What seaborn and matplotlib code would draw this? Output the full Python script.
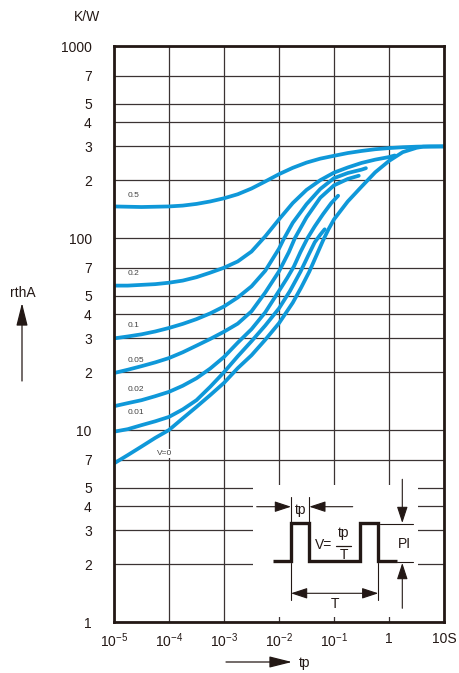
import numpy as np
import pandas as pd
import matplotlib
matplotlib.use('Agg')
import matplotlib.pyplot as plt
import seaborn as sns
from matplotlib.patches import Rectangle, FancyArrowPatch
from matplotlib.ticker import NullLocator

sns.set_theme(style='white')
plt.rcParams['font.family'] = ['Liberation Sans', 'DejaVu Sans']
plt.rcParams['mathtext.fontset'] = 'custom'
plt.rcParams['mathtext.rm'] = 'Liberation Sans'
plt.rcParams['mathtext.it'] = 'Liberation Sans'
plt.rcParams['mathtext.bf'] = 'Liberation Sans'

# ---------------- data ----------------
# x positions are read as decade exponents of tp (log10 seconds), y values in K/W
duty_labels = ['0.5', '0.2', '0.1', '0.05', '0.02', '0.01', 'V=0']

logtp_05 = [-5, -4.75, -4.5, -4.25, -4, -3.75, -3.5, -3.25, -3, -2.75, -2.5, -2.25, -2,
            -1.75, -1.5, -1.25, -1, -0.75, -0.5, -0.25, 0, 0.25, 0.5, 0.75, 1]
z_05 = [146, 145.5, 145, 145.5, 146, 147.5, 150.5, 155, 161, 169, 181, 197, 215,
        232, 247, 259, 268, 277, 284, 290, 294, 297, 299, 300, 300]

logtp_02 = [-5, -4.75, -4.5, -4.25, -4, -3.75, -3.5, -3.25, -3, -2.75, -2.5, -2.25, -2,
            -1.75, -1.5, -1.25, -1, -0.75, -0.5, -0.25, 0, 0.104]
z_02 = [56.5, 56.5, 57, 57.5, 58.5, 60, 62.5, 66, 70, 75.5, 85, 102, 125,
        152, 178, 200, 219, 233, 246, 256, 264, 269]

logtp_01 = [-5, -4.75, -4.5, -4.25, -4, -3.75, -3.5, -3.25, -3, -2.75, -2.5, -2.25, -2,
            -1.92, -1.75, -1.5, -1.25, -1, -0.75, -0.5, -0.42]
z_01 = [30, 30.7, 31.5, 32.6, 34, 35.7, 37.8, 40.5, 44, 49, 56, 67.5, 88,
        98, 120, 150, 180, 205, 218, 227, 231]

logtp_005 = [-5, -4.75, -4.5, -4.25, -4, -3.75, -3.5, -3.25, -3, -2.75, -2.5, -2.25, -2,
             -1.82, -1.71, -1.5, -1.25, -1, -0.75, -0.55]
z_005 = [19.8, 20.6, 21.5, 22.5, 23.7, 25.4, 27.5, 29.8, 32.5, 35.8, 41.5, 52, 67,
         84.5, 100, 128, 162, 188, 203, 211]

logtp_002 = [-5, -4.75, -4.5, -4.25, -4, -3.75, -3.5, -3.25, -3, -2.75, -2.5, -2.25, -2,
             -1.85, -1.73, -1.61, -1.48, -1.35, -1.2, -1.05, -0.925]
z_002 = [13.3, 13.8, 14.3, 15, 15.8, 17, 18.6, 20.9, 24, 28.5, 33.5, 41, 53,
         62, 71, 84.5, 100, 115, 133, 152, 166]

logtp_001 = [-5, -4.75, -4.5, -4.25, -4, -3.75, -3.5, -3.25, -3, -2.75, -2.5, -2.25, -2,
             -1.8, -1.61, -1.46, -1.35, -1.25, -1.17]
z_001 = [9.8, 10.1, 10.6, 11.1, 11.7, 12.8, 14.3, 16.8, 20, 24.2, 29, 35, 43,
         53, 66.7, 82, 95, 104, 111]

logtp_v0 = [-5, -4.75, -4.5, -4.25, -4, -3.75, -3.5, -3.25, -3, -2.75, -2.5, -2.25, -2,
            -1.75, -1.6, -1.45, -1.32, -1.2, -1.1, -1, -0.75, -0.5, -0.25, 0, 0.25,
            0.5, 0.62, 1]
z_v0 = [6.7, 7.4, 8.2, 9.1, 10, 11.5, 13.2, 15.2, 17.6, 21, 24.5, 29.5, 36,
        46, 55, 66.7, 81, 97, 111, 125, 155, 185, 220, 252, 280,
        295, 299, 300]

curve_logtp = [logtp_05, logtp_02, logtp_01, logtp_005, logtp_002, logtp_001, logtp_v0]
curve_z = [z_05, z_02, z_01, z_005, z_002, z_001, z_v0]

# label anchor values (left side of plot)
label_tp = [1.75e-5, 1.75e-5, 1.75e-5, 1.75e-5, 1.75e-5, 1.75e-5, 6.0e-5]
label_z = [167, 65, 35.2, 22.9, 16.2, 12.3, 7.55]

x_ticks = [1e-5, 1e-4, 1e-3, 1e-2, 1e-1, 1, 10]
x_ticklabels = [r'$\mathregular{10^{-5}}$', r'$\mathregular{10^{-4}}$', r'$\mathregular{10^{-3}}$',
                r'$\mathregular{10^{-2}}$', r'$\mathregular{10^{-1}}$', '1', '10S']
y_ticks = [1, 2, 3, 4, 5, 7, 10, 20, 30, 40, 50, 70, 100, 200, 300, 400, 500, 700, 1000]
y_ticklabels = ['1', '2', '3', '4', '5', '7', '10', '2', '3', '4', '5', '7',
                '100', '2', '3', '4', '5', '7', '1000']

BLUE = '#0f98d9'
INK = '#231815'

df = pd.concat([pd.DataFrame({'tp': np.power(10.0, np.array(t)), 'z': z, 'duty': d})
                for t, z, d in zip(curve_logtp, curve_z, duty_labels)], ignore_index=True)

# ---------------- figure ----------------
W, H = 460, 673
fig = plt.figure(figsize=(W / 100, H / 100), dpi=100)
ax = fig.add_axes([114 / W, (H - 622) / H, 330 / W, 576 / H])

for d in duty_labels:
    sub = df[df['duty'] == d]
    sns.lineplot(data=sub, x='tp', y='z', ax=ax, color=BLUE, lw=2.7,
                 estimator=None, sort=False, zorder=3, legend=False)
for ln in ax.lines:
    ln.set_solid_capstyle('round')
    ln.set_solid_joinstyle('round')

ax.set_xscale('log')
ax.set_yscale('log')
ax.set_xlim(1e-5, 10)
ax.set_ylim(1, 1000)
ax.set_xticks(x_ticks)
ax.set_xticklabels(x_ticklabels)
ax.set_yticks(y_ticks)
ax.set_yticklabels(y_ticklabels)
ax.xaxis.set_minor_locator(NullLocator())
ax.yaxis.set_minor_locator(NullLocator())
ax.set_xlabel('')
ax.set_ylabel('')
ax.tick_params(axis='y', length=0, pad=16, labelsize=10, labelcolor=INK)
ax.tick_params(axis='x', length=0, pad=7, labelsize=10, labelcolor=INK)
ax.grid(True, which='major', color='#3b3333', lw=0.9)
ax.set_axisbelow(True)
for s in ax.spines.values():
    s.set_linewidth(2.0)
    s.set_color(INK)
    s.set_zorder(6)

# curve labels
for t, z, lab in zip(label_tp, label_z, duty_labels):
    kw = dict(fontsize=6, color='#444444', ha='left', va='center', zorder=4)
    if lab == 'V=0':
        kw['bbox'] = dict(fc='white', ec='none', pad=1.0)
    ax.text(t, z, lab, **kw)

# ---------------- inset pulse diagram (decorative) ----------------
def A(px, py):
    return ((px - 114) / 330, (622 - py) / 576)

x0, y0 = A(253, 617)
x1, y1 = A(418, 485)
ax.add_patch(Rectangle((x0, y0), x1 - x0, y1 - y0, transform=ax.transAxes,
                       fc='white', ec='none', zorder=2))

pulse_px = [(273.3, 560.7), (291, 560.7), (291, 523.3), (309.3, 523.3), (309.3, 560.7),
            (360, 560.7), (360, 523.3), (378.3, 523.3), (378.3, 560.7), (396.7, 560.7)]
pts = [A(*p) for p in pulse_px]
ax.plot([p[0] for p in pts], [p[1] for p in pts], transform=ax.transAxes,
        color=INK, lw=2.4, zorder=4, solid_joinstyle='miter', solid_capstyle='butt')

def thin(p, q, lw=0.8):
    a, b = A(*p), A(*q)
    ax.plot([a[0], b[0]], [a[1], b[1]], transform=ax.transAxes, color=INK, lw=lw, zorder=4)

thin((291, 496.7), (291, 523.3))
thin((309.3, 496.7), (309.3, 523.3))
thin((291, 563), (291, 600))
thin((378.3, 563), (378.3, 600))
thin((380, 524), (412.7, 524))
thin((396.7, 562.3), (412.7, 562.3))

def arrow(p, q, style='-|>,head_length=1.0,head_width=0.33'):
    ax.annotate('', xy=A(*q), xytext=A(*p), xycoords='axes fraction',
                textcoords='axes fraction',
                arrowprops=dict(arrowstyle=style, color=INK, lw=0.8,
                                shrinkA=0, shrinkB=0, mutation_scale=10), zorder=4)

arrow((256.7, 506.7), (291, 506.7))
arrow((352.7, 506.7), (309.3, 506.7))
arrow((402.3, 479.3), (402.3, 523))
arrow((402.3, 608.3), (402.3, 563))
ax.annotate('', xy=A(378.3, 593.3), xytext=A(291, 593.3), xycoords='axes fraction',
            textcoords='axes fraction',
            arrowprops=dict(arrowstyle='<|-|>,head_length=1.0,head_width=0.33', color=INK,
                            lw=0.8, shrinkA=0, shrinkB=0, mutation_scale=10), zorder=4)

def atext(px, py, s, size=10, **kw):
    ax.text(*A(px, py), s, transform=ax.transAxes, fontsize=size, color=INK,
            ha='center', va='center', zorder=5, **kw)

atext(300.5, 510, 'tp')
atext(324, 545, 'V=')
atext(344, 533, 'tp')
thin((336.5, 546), (351.5, 546), lw=0.9)
atext(344, 555, 'T')
atext(335, 604, 'T')
atext(404, 543.5, 'PI')

# ---------------- outside-axes annotations ----------------
def F(px, py):
    return (px / W, 1 - py / H)

fig.text(*F(87, 17), 'K/W', ha='center', va='center', fontsize=10, color=INK)
fig.text(*F(23, 293), 'rthA', ha='center', va='center', fontsize=10, color=INK)
fig.text(*F(305, 663), 'tp', ha='center', va='center', fontsize=10, color=INK)
fig.add_artist(FancyArrowPatch(F(22, 381), F(22, 303), transform=fig.transFigure,
                               arrowstyle='-|>,head_length=1.4,head_width=0.35',
                               mutation_scale=10, color=INK, lw=0.9,
                               shrinkA=0, shrinkB=0))
fig.add_artist(FancyArrowPatch(F(226, 662), F(292, 662), transform=fig.transFigure,
                               arrowstyle='-|>,head_length=1.4,head_width=0.35',
                               mutation_scale=10, color=INK, lw=0.9,
                               shrinkA=0, shrinkB=0))

fig.savefig('out.png', dpi=100, facecolor='white')
